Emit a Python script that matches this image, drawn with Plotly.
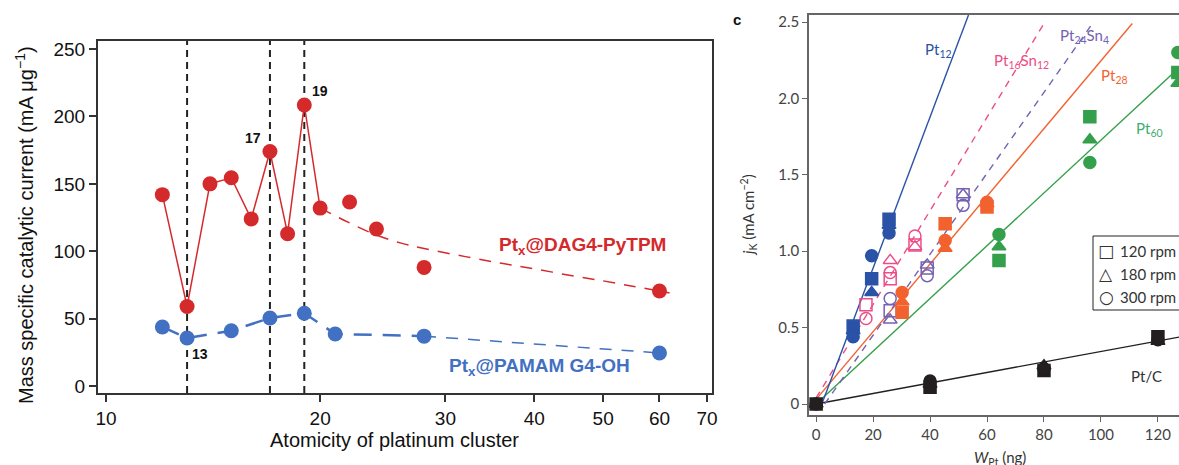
import plotly.graph_objects as go

# ---------------- Left panel data ----------------
red_x_solid = [12, 13, 14, 15, 16, 17, 18, 19, 20]
red_y_solid = [142, 59, 150, 154.5, 124, 174, 113, 208.5, 132]
red_x_extra = [22, 24, 28, 60]
red_y_extra = [136.5, 116.5, 88, 70.5]
red_fit_x = [20, 22, 24, 26, 28, 32, 36, 40, 45, 50, 55, 60, 62]
red_fit_y = [132, 121, 112, 106, 102, 96, 91, 87, 82, 78, 74, 70.5, 69]
blue_x = [12, 13, 15, 17, 19, 21, 28]
blue_y = [43.8, 35.6, 41, 50.4, 54, 38.6, 37]
blue_tail_x = [28, 60]
blue_tail_y = [37, 24.5]
magic_x = [13, 17, 19]
left_xticks = [10, 20, 30, 40, 50, 60, 70]
left_yticks = [0, 50, 100, 150, 200, 250]

# ---------------- Right panel data ----------------
pt12_x = [13, 19.5, 25.6]
pt12_sq = [0.51, 0.82, 1.21]
pt12_tri = [0.48, 0.73, 1.17]
pt12_ci = [0.44, 0.97, 1.12]

pt16_x = [17.5, 26, 34.7]
pt16_sq = [0.65, 0.82, 1.04]
pt16_tri = [None, 0.94, 1.03]
pt16_ci = [0.56, 0.86, 1.10]

pt24_x = [26, 39, 51.6]
pt24_sq = [0.61, 0.89, 1.37]
pt24_tri = [0.55, 0.91, 1.37]
pt24_ci = [0.69, 0.84, 1.30]

pt28_x = [30.2, 45.3, 60]
pt28_sq = [0.60, 1.18, 1.29]
pt28_tri = [0.67, 1.02, 1.31]
pt28_ci = [0.73, 1.07, 1.32]

pt60_x = [64.2, 96.1, 127]
pt60_sq = [0.94, 1.88, 2.17]
pt60_tri = [1.03, 1.73, 2.10]
pt60_ci = [1.11, 1.58, 2.30]

ptc_x = [0, 40, 80, 120]
ptc_sq = [0, 0.11, 0.22, 0.44]
ptc_tri = [0, 0.13, 0.25, 0.41]
ptc_ci = [0, 0.15, 0.23, 0.42]

pt12_line_x, pt12_line_y = [2, 53.5], [0, 2.546]
pt16_line_x, pt16_line_y = [0, 80], [0.04, 2.49]
pt24_line_x, pt24_line_y = [3, 97], [0, 2.49]
pt28_line_x, pt28_line_y = [0, 111], [0.03, 2.49]
pt60_line_x, pt60_line_y = [0, 127.4], [0, 2.2]
ptc_line_x, ptc_line_y = [0, 127.4], [0, 0.438]

right_xticks = [0, 20, 40, 60, 80, 100, 120]
right_yticks = [0, 0.5, 1.0, 1.5, 2.0, 2.5]
right_yticktext = ["0", "0.5", "1.0", "1.5", "2.0", "2.5"]

legend_symbols = ["□", "△", "○"]
legend_labels = ["120 rpm", "180 rpm", "300 rpm"]

RED = "#d42a2c"
BLUE = "#4270c2"
C12, C16, C24, C28, C60, CC = "#2a52a6", "#ec4d86", "#7462b2", "#f2622f", "#34a04b", "#231f20"

W, H = 1179, 465
LF = "Liberation Sans, Arial, sans-serif"
RF = "Lato, Open Sans, sans-serif"

fig = go.Figure()

# ----- left panel traces -----
fig.add_trace(go.Scatter(x=red_fit_x, y=red_fit_y, mode="lines", line=dict(color=RED, width=1.5, dash="12px,9px", shape="spline"),
                         xaxis="x", yaxis="y", showlegend=False, hoverinfo="skip"))
fig.add_trace(go.Scatter(x=blue_tail_x, y=blue_tail_y, mode="lines", line=dict(color=BLUE, width=1.5, dash="12px,10px"),
                         xaxis="x", yaxis="y", showlegend=False))
fig.add_trace(go.Scatter(x=blue_x, y=blue_y, mode="lines+markers", line=dict(color=BLUE, width=2.5, dash="18px,11px"),
                         marker=dict(color=BLUE, size=15), xaxis="x", yaxis="y", showlegend=False))
fig.add_trace(go.Scatter(x=blue_tail_x[1:], y=blue_tail_y[1:], mode="markers", marker=dict(color=BLUE, size=15),
                         xaxis="x", yaxis="y", showlegend=False))
fig.add_trace(go.Scatter(x=red_x_solid, y=red_y_solid, mode="lines+markers", line=dict(color=RED, width=1.5),
                         marker=dict(color=RED, size=15), xaxis="x", yaxis="y", showlegend=False))
fig.add_trace(go.Scatter(x=red_x_extra, y=red_y_extra, mode="markers", marker=dict(color=RED, size=15),
                         xaxis="x", yaxis="y", showlegend=False))

shapes = []
for mx in magic_x:
    shapes.append(dict(type="line", xref="x", yref="y domain", x0=mx, x1=mx, y0=0, y1=1,
                       line=dict(color="#222", width=2, dash="7px,5px"), layer="below"))

# ----- right panel traces -----
def add_line(x, y, color, dash=None):
    fig.add_trace(go.Scatter(x=x, y=y, mode="lines", line=dict(color=color, width=1.4, dash=dash),
                             xaxis="x2", yaxis="y2", showlegend=False, cliponaxis=True))

add_line(ptc_line_x, ptc_line_y, CC)
add_line(pt60_line_x, pt60_line_y, C60)
add_line(pt28_line_x, pt28_line_y, C28)
add_line(pt24_line_x, pt24_line_y, C24, "7px,6px")
add_line(pt16_line_x, pt16_line_y, C16, "7px,6px")
add_line(pt12_line_x, pt12_line_y, C12)

def add_pts(x, ys, color, filled):
    syms = ["square", "triangle-up", "circle"]
    for yv, s in zip(ys, syms):
        sym = s if filled else s + "-open"
        fig.add_trace(go.Scatter(x=x, y=yv, mode="markers",
                                 marker=dict(symbol=sym, color=color, size=12, line=dict(color=color, width=1.5)),
                                 xaxis="x2", yaxis="y2", showlegend=False))

add_pts(pt16_x, [pt16_sq, pt16_tri, pt16_ci], C16, False)
add_pts(pt24_x, [pt24_sq, pt24_tri, pt24_ci], C24, False)
add_pts(pt12_x, [pt12_sq, pt12_tri, pt12_ci], C12, True)
add_pts(pt28_x, [pt28_sq, pt28_tri, pt28_ci], C28, True)
add_pts(pt60_x, [pt60_sq, pt60_tri, pt60_ci], C60, True)
add_pts(ptc_x, [ptc_sq, ptc_tri, ptc_ci], CC, True)

# ---------------- annotations ----------------
def px(x):
    return x / W

def py(y):
    return 1 - y / H

ann = []
def A(x, y, text, size, color, font=LF, bold=False, angle=0, xanchor="center"):
    if bold:
        text = "<b>" + text + "</b>"
    ann.append(dict(xref="paper", yref="paper", x=px(x), y=py(y), text=text, showarrow=False,
                    font=dict(size=size, color=color, family=font), textangle=angle,
                    xanchor=xanchor, yanchor="middle"))

A(320, 91, "19", 14, "#111", bold=True)
A(253, 138, "17", 14, "#111", bold=True)
A(200, 354, "13", 14, "#111", bold=True)
A(582, 246, "Pt<sub>x</sub>@DAG4-PyTPM", 19, RED, bold=True)
A(539, 367, "Pt<sub>x</sub>@PAMAM G4-OH", 19, BLUE, bold=True)
A(24, 225, "Mass specific catalytic current (mA μg<sup>−1</sup>)", 20, "#111", angle=-90)
A(394, 440, "Atomicity of platinum cluster", 20, "#111")

A(737, 19, "c", 15, "#111", font="Liberation Sans, Arial", bold=True)
A(938, 50, "Pt<sub>12</sub>", 15, C12, font=RF)
A(1021, 61, "Pt<sub>16</sub>Sn<sub>12</sub>", 15, C16, font=RF)
A(1084, 36, "Pt<sub>24</sub>Sn<sub>4</sub>", 15, C24, font=RF)
A(1114, 76, "Pt<sub>28</sub>", 15, C28, font=RF)
A(1149, 129, "Pt<sub>60</sub>", 15, "#3fae6e", font=RF)
A(1146, 376, "Pt/C", 15, "#333", font=RF)
A(748, 215, "<i>j</i><sub>K</sub> (mA cm<sup>−2</sup>)", 15, "#333", font=RF, angle=-90)
A(1000, 458, "<i>W</i><sub>Pt</sub> (ng)", 15, "#333", font=RF)

# manual legend (box cut by the right edge like the reference)
shapes.append(dict(type="rect", xref="paper", yref="paper", x0=px(1093), x1=px(1200), y0=py(310), y1=py(236),
                   line=dict(color="#222", width=1), fillcolor="white", layer="above"))
for i, (sym, lab) in enumerate(zip(legend_symbols, legend_labels)):
    yy = 251 + 23 * i
    A(1106, yy, sym, 17, "#333", font="DejaVu Sans")
    A(1118, yy, lab, 15, "#333", font=RF, xanchor="left")

fig.update_layout(
    width=W, height=H, margin=dict(l=0, r=0, t=0, b=0), showlegend=False,
    paper_bgcolor="white", plot_bgcolor="white",
    shapes=shapes, annotations=ann,
    xaxis=dict(domain=[px(98), px(712)], type="log", range=[0.9887, 1.852], tickvals=left_xticks,
               ticktext=[str(v) for v in left_xticks], ticks="outside", ticklen=7, tickwidth=2, tickcolor="#333",
               showline=True, linecolor="#333", linewidth=2, mirror=True, showgrid=False, zeroline=False,
               tickfont=dict(family=LF, size=19, color="#111"), anchor="y", automargin=False),
    yaxis=dict(domain=[py(393), py(41)], range=[-5.2, 256], tickvals=left_yticks, ticks="outside", ticklen=7,
               tickwidth=2, tickcolor="#333", showline=True, linecolor="#333", linewidth=2, mirror=True,
               showgrid=False, zeroline=False, tickfont=dict(family=LF, size=19, color="#111"), anchor="x",
               automargin=False),
    xaxis2=dict(domain=[px(809), 1.0], range=[-2.5, 127.4], tickvals=right_xticks, ticks="outside", ticklen=5,
                tickwidth=1.3, tickcolor="#666", showline=True, linecolor="#666", linewidth=1.5, mirror=True,
                showgrid=False, zeroline=False, tickfont=dict(family=RF, size=15, color="#444"), anchor="y2",
                automargin=False),
    yaxis2=dict(domain=[py(415), py(15)], range=[-0.072, 2.546], tickvals=right_yticks, ticktext=right_yticktext,
                ticks="outside", ticklen=5, tickwidth=1.3, tickcolor="#666", showline=True, linecolor="#666",
                linewidth=1.5, mirror=False, showgrid=False, zeroline=False,
                tickfont=dict(family=RF, size=15, color="#444"), anchor="x2", automargin=False),
)

fig.write_html("out.html")
